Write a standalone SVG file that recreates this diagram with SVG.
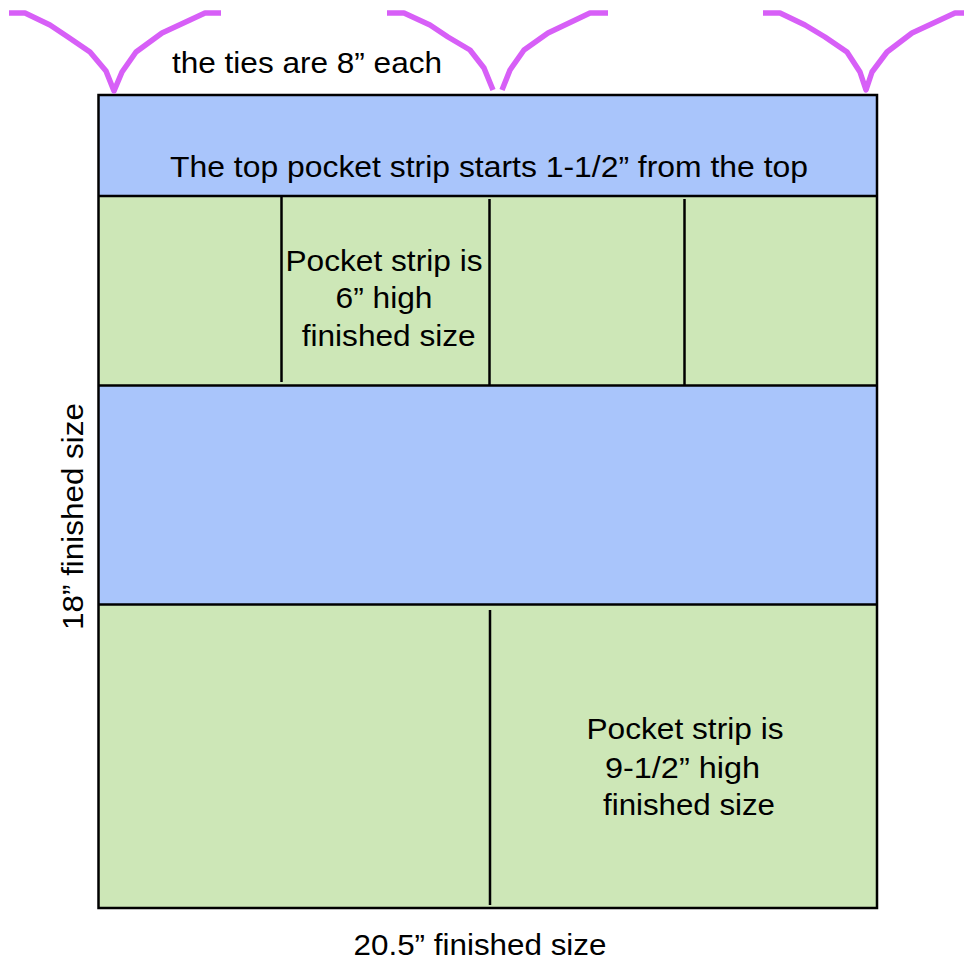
<svg xmlns="http://www.w3.org/2000/svg" width="964" height="962" viewBox="0 0 964 962">
<style>
.blue{fill:#a9c5fb;stroke:none}
.green{fill:#cde7b7;stroke:none}
.ln{stroke:#000;stroke-width:2.5;fill:none}
.tie{stroke:#d75ff7;stroke-width:5.5;fill:none;stroke-linejoin:round}
.t{font-family:"Liberation Sans",Arial,Helvetica,sans-serif;font-size:30px;fill:#000;text-anchor:middle}
</style>
<rect width="964" height="962" fill="#fff"/>
<g id="top-band">
<rect class="blue" x="99" y="95" width="778" height="101"/>
<text class="t" x="489" y="177" textLength="638" lengthAdjust="spacingAndGlyphs">The top pocket strip starts 1-1/2” from the top</text>
</g>
<g id="small-pockets">
<rect class="green" x="99" y="196" width="778" height="189"/>
<line class="ln" x1="99" y1="196" x2="877" y2="196"/>
<line class="ln" x1="281.5" y1="197" x2="281.5" y2="382"/>
<line class="ln" x1="489.5" y1="199" x2="489.5" y2="385"/>
<line class="ln" x1="684.5" y1="199" x2="684.5" y2="385"/>
<text class="t" x="384" y="271" textLength="197" lengthAdjust="spacingAndGlyphs">Pocket strip is</text>
<text class="t" x="384" y="308" textLength="97" lengthAdjust="spacingAndGlyphs">6” high</text>
<text class="t" x="388.7" y="346" textLength="174" lengthAdjust="spacingAndGlyphs">finished size</text>
</g>
<g id="middle-band">
<rect class="blue" x="99" y="385" width="778" height="219"/>
<line class="ln" x1="99" y1="385.5" x2="877" y2="385.5"/>
</g>
<g id="large-pockets">
<rect class="green" x="99" y="604" width="778" height="304"/>
<line class="ln" x1="99" y1="604.5" x2="877" y2="604.5"/>
<line class="ln" x1="490" y1="610" x2="490" y2="905"/>
<text class="t" x="685" y="739" textLength="197" lengthAdjust="spacingAndGlyphs">Pocket strip is</text>
<text class="t" x="682.5" y="778" textLength="155" lengthAdjust="spacingAndGlyphs">9-1/2” high</text>
<text class="t" x="689" y="815" textLength="172" lengthAdjust="spacingAndGlyphs">finished size</text>
</g>
<g id="outline">
<rect class="ln" x="98.5" y="95" width="778.5" height="813"/>
</g>
<g id="connectors">
<polyline class="tie" points="9,13 25,13 50,25 68,37 90,52 106,71 114,91 122,72 136,52 162,33 205,13 221,13"/>
<polyline class="tie" points="387,13 404,13 430,25 448,37 470,50 484,68 493,90"/>
<polyline class="tie" points="502,90 510,70 524,50 548,33 590,13 608,13"/>
<polyline class="tie" points="763,13 780,13 805,25 825,37 847,52 860,72 866,90 872,72 887,52 912,33 955,13 964,13"/>
</g>
<g id="labels">
<text class="t" x="307" y="73" textLength="270" lengthAdjust="spacingAndGlyphs">the ties are 8” each</text>
<text class="t" x="480" y="955" textLength="253" lengthAdjust="spacingAndGlyphs">20.5” finished size</text>
<text class="t" transform="translate(83,516.5) rotate(-90)" x="0" y="0" textLength="227" lengthAdjust="spacingAndGlyphs">18” finished size</text>
</g>
</svg>
